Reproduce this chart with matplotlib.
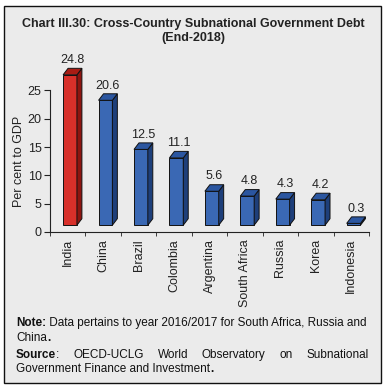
import matplotlib
matplotlib.use("Agg")
import matplotlib.pyplot as plt
from matplotlib.patches import Polygon, Rectangle

plt.rcParams['font.family'] = ['Liberation Sans', 'DejaVu Sans']

# -----------------------------
# Data
# -----------------------------
countries = ["India", "China", "Brazil", "Colombia", "Argentina",
             "South Africa", "Russia", "Korea", "Indonesia"]
debt = [24.8, 20.6, 12.5, 11.1, 5.6, 4.8, 4.3, 4.2, 0.3]
highlight = ["India"]

title = "Chart III.30: Cross-Country Subnational Government Debt\n(End-2018)"
ylabel = "Per cent to GDP"
yticks = [0, 5, 10, 15, 20, 25]

# -----------------------------
# Figure
# -----------------------------
W, H = 386, 388
fig = plt.figure(figsize=(W / 100, H / 100), dpi=100)
fig.patch.set_facecolor("white")

def px(x, y):
    return x / W, 1 - y / H

# frame
fig.patches.append(Rectangle(px(4, 383), 377 / W, 377 / H, transform=fig.transFigure,
                             facecolor="#ebebeb", edgecolor="#111111", lw=1.0, zorder=-10))

fig.text(193 / W, 1 - 31 / H, title, ha="center", va="center", fontsize=9,
         fontweight="bold", color="#222222", linespacing=1.2)

ax = fig.add_axes([50 / W, 1 - 232 / H, 319 / W, 170 / H])
ax.set_facecolor("none")

# pseudo 3d bars
base, scale = 1.2, 1.07
x0, bw, ddx, ddy = -0.13, 0.39, 0.14, 1.15
for i, (c, v) in enumerate(zip(countries, debt)):
    if c in highlight:
        front, side, top = "#d8302a", "#8e1510", "#a81c14"
    else:
        front, side, top = "#3a68b4", "#1e3f7a", "#2b56a0"
    l = i + x0
    r = l + bw
    b = base
    t = base + v * scale
    ax.add_patch(Polygon([(l, b), (r, b), (r, t), (l, t)], closed=True,
                         facecolor=front, edgecolor="#111111", lw=0.7, zorder=3))
    ax.add_patch(Polygon([(r, b), (r + ddx, b + ddy), (r + ddx, t + ddy), (r, t)], closed=True,
                         facecolor=side, edgecolor="#111111", lw=0.7, zorder=3))
    ax.add_patch(Polygon([(l, t), (r, t), (r + ddx, t + ddy), (l + ddx, t + ddy)], closed=True,
                         facecolor=top, edgecolor="#111111", lw=0.7, zorder=3))
    ax.text(l + (bw + ddx) / 2, t + ddy + 0.4, f"{v}", ha="center", va="bottom",
            fontsize=9, color="#222222", clip_on=False)

ax.set_xlim(-0.5, len(countries) - 0.5)
ax.set_ylim(0, 30)
ax.set_yticks(yticks)
ax.set_xticks(range(len(countries)))
ax.set_xticklabels(countries, rotation=90, fontsize=9, color="#222222")
ax.set_xticks([i - 0.5 for i in range(len(countries) + 1)], minor=True)
ax.tick_params(axis="x", which="major", length=0, pad=5)
ax.tick_params(axis="x", which="minor", length=3, direction="out", color="#222222")
ax.tick_params(axis="y", length=4, direction="out", labelsize=9, labelcolor="#222222",
               color="#222222", pad=2)
for s in ["top", "right"]:
    ax.spines[s].set_visible(False)
ax.spines["left"].set_bounds(0, 25)
ax.spines["left"].set_color("#222222")
ax.spines["bottom"].set_color("#222222")
ax.set_ylabel(ylabel, fontsize=9, color="#222222")
ax.yaxis.set_label_coords(-25 / 319, 0.415)

# -----------------------------
# Notes
# -----------------------------
renderer = fig.canvas.get_renderer()
fs = 8.5
left_px, right_px = 16, 369

def put_parts(parts, x, y):
    ts = []
    for txt, wt in parts:
        t = fig.text(x / W, 1 - y / H, txt, fontsize=fs, fontweight=wt,
                     ha="left", va="center", color="#111111")
        x += t.get_window_extent(renderer).width
        ts.append(t)
    return ts, x

def justify_line(words, y):
    groups = []
    total = 0
    for parts in words:
        ts, end = put_parts(parts, 0, y)
        groups.append(ts)
        total += end
    gap = (right_px - left_px - total) / (len(words) - 1)
    x = left_px
    for ts in groups:
        for t in ts:
            t.set_x(x / W)
            x += t.get_window_extent(renderer).width
        x += gap

put_parts([("Note:", "bold"),
           (" Data pertains to year 2016/2017 for South Africa, Russia and", "normal")],
          left_px, 323)
put_parts([("China", "normal"), (".", "bold")], left_px, 338)
justify_line([[("Source", "bold"), (":", "normal")], [("OECD-UCLG", "normal")],
              [("World", "normal")], [("Observatory", "normal")], [("on", "normal")],
              [("Subnational", "normal")]], 355)
put_parts([("Government Finance and Investment", "normal"), (".", "bold")], left_px, 369)

fig.savefig("out.png", dpi=100)
